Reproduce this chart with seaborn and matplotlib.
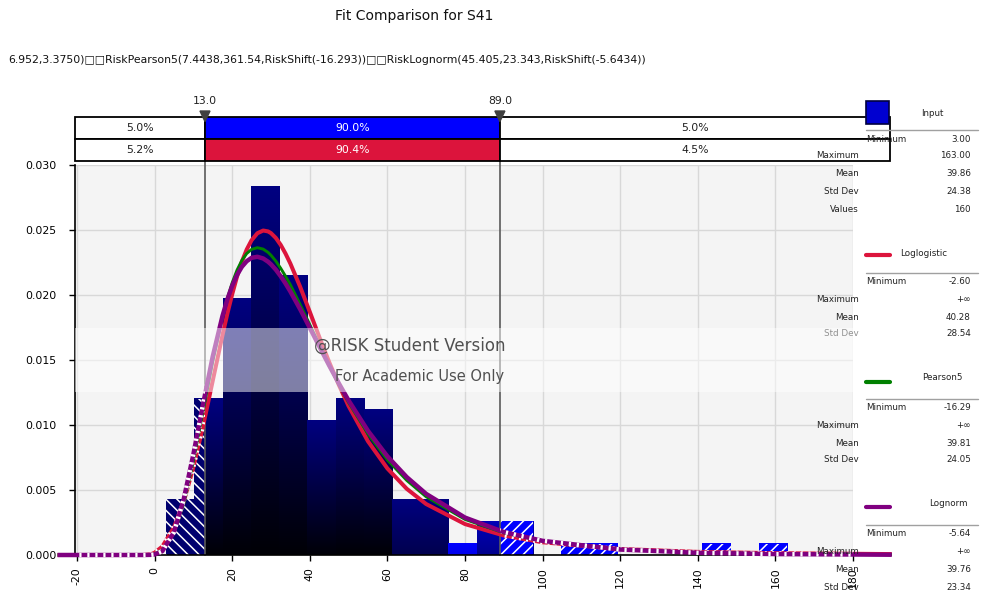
import numpy as np
import pandas as pd
import matplotlib
matplotlib.use("Agg")
import matplotlib.pyplot as plt
import seaborn as sns
from matplotlib.patches import Rectangle, Polygon
from matplotlib.path import Path
from matplotlib.ticker import FormatStrFormatter

# ---------------- data ----------------
bin_lo, bin_hi, n_bins = 3.0, 163.0, 22
bin_counts = [5, 14, 23, 33, 25, 12, 14, 13, 5, 5, 1, 3, 3, 0, 1, 1, 0, 0, 0, 1, 0, 1]

curve_x = [-25, -20, -10, -3, -1, 0, 2, 5, 7.5, 10,
           12.5, 15, 17.5, 18.75, 20, 21.25, 22.5, 23.75, 25, 26.5,
           28, 29.25, 30, 31.25, 32.5, 33.75, 35, 37.5, 40, 42.5,
           45, 47.5, 50, 55, 60, 65, 70, 80, 90, 100,
           120, 140, 160, 190]
loglogistic_y = [0, 0, 0, 0, 0.00005, 0.00017, 0.00065, 0.00212, 0.00409, 0.00674,
                 0.00991, 0.01341, 0.01690, 0.01855, 0.02005, 0.02141, 0.02256, 0.02350, 0.02421, 0.02475,
                 0.02496, 0.02489, 0.02476, 0.02439, 0.02386, 0.02319, 0.02242, 0.02065, 0.01871, 0.01674,
                 0.01484, 0.01308, 0.01146, 0.00875, 0.00666, 0.00509, 0.00392, 0.00238, 0.00150, 0.00098,
                 0.00046, 0.00024, 0.00014, 0.00007]
pearson5_y = [0, 0, 0, 0, 0.00003, 0.00009, 0.00038, 0.00169, 0.00395, 0.00720,
              0.01104, 0.01490, 0.01829, 0.01972, 0.02093, 0.02191, 0.02266, 0.02319, 0.02351, 0.02364,
              0.02353, 0.02328, 0.02306, 0.02261, 0.02206, 0.02145, 0.02079, 0.01928, 0.01772, 0.01613,
              0.01457, 0.01311, 0.01173, 0.00931, 0.00732, 0.00574, 0.00448, 0.00274, 0.00170, 0.00106,
              0.00044, 0.00019, 0.00009, 0.00003]
lognorm_y = [0, 0, 0, 0, 0.00001, 0.00004, 0.00029, 0.00175, 0.00427, 0.00774,
             0.01160, 0.01528, 0.01838, 0.01965, 0.02070, 0.02154, 0.02217, 0.02260, 0.02286, 0.02294,
             0.02281, 0.02256, 0.02236, 0.02195, 0.02145, 0.02089, 0.02027, 0.01892, 0.01748, 0.01602,
             0.01458, 0.01320, 0.01189, 0.00955, 0.00759, 0.00599, 0.00470, 0.00288, 0.00177, 0.00109,
             0.00042, 0.00017, 0.00007, 0.00002]

cut_values = [13.0, 89.0]
input_pcts = [5.0, 90.0, 5.0]
fit_pcts = [5.2, 90.4, 4.5]

x_ticks = [-20, 0, 20, 40, 60, 80, 100, 120, 140, 160, 180]
y_ticks = [0.000, 0.005, 0.010, 0.015, 0.020, 0.025, 0.030]

title = "Fit Comparison for S41"
subtitle = ("6.952,3.3750)\u25a1\u25a1RiskPearson5(7.4438,361.54,RiskShift(-16.293))"
            "\u25a1\u25a1RiskLognorm(45.405,23.343,RiskShift(-5.6434))")

series_names = ["Loglogistic", "Pearson5", "Lognorm"]
series_colors = ["#dc143c", "#008000", "#800080"]

input_stats = [("Minimum", "3.00"), ("Maximum", "163.00"), ("Mean", "39.86"),
               ("Std Dev", "24.38"), ("Values", "160")]
loglogistic_stats = [("Minimum", "-2.60"), ("Maximum", "+\u221e"), ("Mean", "40.28"), ("Std Dev", "28.54")]
pearson5_stats = [("Minimum", "-16.29"), ("Maximum", "+\u221e"), ("Mean", "39.81"), ("Std Dev", "24.05")]
lognorm_stats = [("Minimum", "-5.64"), ("Maximum", "+\u221e"), ("Mean", "39.76"), ("Std Dev", "23.34")]

# ---------------- style ----------------
sns.set_style("ticks")
plt.rcParams["font.family"] = ["DejaVu Sans"]
plt.rcParams["axes.unicode_minus"] = False
plt.rcParams["hatch.color"] = "white"
plt.rcParams["hatch.linewidth"] = 1.1

W, H = 982, 596
fig = plt.figure(figsize=(W / 100, H / 100), dpi=100, facecolor="white")

def fx(px):
    return px / W

def fy(py):
    return 1 - py / H

ax_l, ax_r, ax_t, ax_b = 75, 853, 165, 555
ax = fig.add_axes([fx(ax_l), fy(ax_b), fx(ax_r - ax_l), (ax_b - ax_t) / H])
ax.set_facecolor("#f4f4f4")
XMIN, XMAX = -20.5, 180.0

# ---------------- histogram layers ----------------
edges = [float(e) for e in np.linspace(bin_lo, bin_hi, n_bins + 1)]
centers = [(a + b) / 2 for a, b in zip(edges[:-1], edges[1:])]
hist_df = pd.DataFrame({"value": centers, "count": bin_counts})

def hist_layer(**kw):
    n0 = len(ax.patches)
    sns.histplot(data=hist_df, x="value", weights="count", bins=edges, stat="density",
                 ax=ax, alpha=1, **kw)
    return ax.patches[n0:]

def rect_path(x0, x1, y0=-0.004, y1=0.032):
    return Path([(x0, y0), (x1, y0), (x1, y1), (x0, y1), (x0, y0)],
                [Path.MOVETO, Path.LINETO, Path.LINETO, Path.LINETO, Path.CLOSEPOLY])

# middle layer: solid bars with vertical gradient
mid = hist_layer(color="#000080", edgecolor="none", linewidth=0)
for p in mid:
    h = p.get_height()
    if h <= 0:
        continue
    x0, w = p.get_x(), p.get_width()
    f = min(1.0, max(0.0, (h - 0.0009) / 0.003))
    top_b = (255 - 127 * f) / 255.0
    d = min(0.95, h / 0.011)
    t = np.linspace(0, 1, 64)[:, None]
    b = top_b * (1 - d * t)
    img = np.zeros((64, 1, 3))
    img[:, :, 2] = b
    ax.imshow(img, extent=(x0, x0 + w, 0, h), origin="upper", aspect="auto",
              interpolation="bilinear", zorder=1.5)
    p.set_visible(False)

left = hist_layer(color="#00006e", edgecolor="white", linewidth=0, hatch="\\\\\\")
for p in left:
    p.set_zorder(1.6)
    p.set_clip_path(rect_path(XMIN, cut_values[0]), ax.transData)
right = hist_layer(color="#0000ff", edgecolor="white", linewidth=0, hatch="///")
for p in right:
    p.set_zorder(1.6)
    p.set_clip_path(rect_path(cut_values[1], XMAX), ax.transData)

# marker lines
for c in cut_values:
    ax.axvline(c, ymin=0, ymax=1 + 4 / (ax_b - ax_t), clip_on=False,
               color="#5a5a5a", lw=1.2, zorder=1.8)

# ---------------- fitted curves ----------------
curve_df = pd.DataFrame({"x": curve_x, "Loglogistic": loglogistic_y,
                         "Pearson5": pearson5_y, "Lognorm": lognorm_y})
stripe_clip = Path.make_compound_path(rect_path(XMIN, cut_values[0]), rect_path(cut_values[1], XMAX))
widths = [2.9, 2.1, 3.2]
for name, col, lw in zip(series_names, series_colors, widths):
    sns.lineplot(data=curve_df, x="x", y=name, ax=ax, color=col, lw=lw, zorder=3)
    ln = ax.lines[-1]
    ln.set_clip_on(False)
    ln.set_solid_capstyle("butt")
    ln.set_solid_joinstyle("round")
    sns.lineplot(data=curve_df, x="x", y=name, ax=ax, color="white", lw=lw, zorder=3,
                 linestyle=(0.5, (0.5, 1.3)))
    st = ax.lines[-1]
    st.set_clip_on(True)
    st.set_clip_box(None)
    st.set_clip_path(stripe_clip, ax.transData)

# ---------------- axes cosmetics ----------------
ax.set_xlim(XMIN, XMAX)
ax.set_ylim(0, 0.030)
ax.set_xticks(x_ticks)
ax.set_yticks(y_ticks)
ax.yaxis.set_major_formatter(FormatStrFormatter("%.3f"))
ax.set_xlabel("")
ax.set_ylabel("")
ax.grid(True, color="#d8d8d8", lw=1)
ax.set_axisbelow(True)
for s in ["top", "right"]:
    ax.spines[s].set_visible(False)
for s in ["left", "bottom"]:
    ax.spines[s].set_color("black")
    ax.spines[s].set_linewidth(1.2)
ax.tick_params(axis="both", direction="out", length=4, width=1, colors="black",
               labelsize=7.8)
ax.tick_params(axis="y", pad=9.5)
ax.tick_params(axis="x", labelrotation=90, pad=5)

# ---------------- delimiter table ----------------
tb_l, tb_r = 75, 890
tb = fig.add_axes([fx(tb_l), fy(161), fx(tb_r - tb_l), (161 - 95) / H])
scale = (XMAX - XMIN) / (ax_r - ax_l)
TXMAX = XMIN + (tb_r - tb_l) * scale
tb.set_xlim(XMIN, TXMAX)
tb.set_ylim(161, 95)
tb.axis("off")
bounds = [XMIN] + cut_values + [TXMAX]
for row, (pcts, y0, mid_col) in enumerate([(input_pcts, 117, "#0000ff"), (fit_pcts, 139, "#dc143c")]):
    for i in range(3):
        x0, x1 = bounds[i], bounds[i + 1]
        fc = mid_col if i == 1 else "white"
        tb.add_patch(Rectangle((x0, y0), x1 - x0, 22, facecolor=fc, edgecolor="black",
                               lw=1.3, clip_on=False))
        tb.text((x0 + x1) / 2, y0 + 11, f"{pcts[i]:.1f}%", ha="center", va="center",
                fontsize=7.8, color="white" if i == 1 else "#202020")
tri_w = 5 * scale
for c in cut_values:
    tb.add_patch(Polygon([(c - tri_w, 111), (c + tri_w, 111), (c, 121.5)], closed=True,
                         facecolor="#404040", edgecolor="#404040", clip_on=False, zorder=5))
    tb.text(c, 101, f"{c:.1f}", ha="center", va="center", fontsize=7.8, color="#202020")

# ---------------- overlay (titles, panel, watermark) ----------------
ov = fig.add_axes([0, 0, 1, 1], zorder=5)
ov.set_xlim(0, W)
ov.set_ylim(H, 0)
ov.axis("off")
ov.patch.set_alpha(0)

ov.text(414, 16, title, ha="center", va="center", fontsize=10, color="#111111")
ov.text(8, 60, subtitle, ha="left", va="center", fontsize=7.8, color="#111111")

PFS = 6.3
def stat_block(stats, y_min, row_ys):
    ov.text(866, y_min, stats[0][0], ha="left", va="center", fontsize=PFS, color="#222222")
    ov.text(971, y_min, stats[0][1], ha="right", va="center", fontsize=PFS, color="#222222")
    for (lab, val), yy in zip(stats[1:], row_ys):
        ov.text(859, yy, lab, ha="right", va="center", fontsize=PFS, color="#222222")
        ov.text(971, yy, val, ha="right", va="center", fontsize=PFS, color="#222222")

# Input block
ov.add_patch(Rectangle((866, 101), 23, 23, facecolor="#0000d0", edgecolor="#000040", lw=1.2))
ov.text(932, 113, "Input", ha="center", va="center", fontsize=PFS, color="#222222")
ov.plot([866, 978], [130, 130], color="#a0a0a0", lw=1)
stat_block(input_stats, 139, [156, 174, 191.5, 209])

blocks = [
    (loglogistic_stats, 254.7, 924, 253, 273, 282, [300, 317.5, 334]),
    (pearson5_stats, 381.7, 942, 377, 399, 408, [426, 443, 459.5]),
    (lognorm_stats, 507, 948, 504, 525, 533, [551, 569, 587]),
]
for (stats, sw_y, nm_x, nm_y, line_y, min_y, rows), name, col in zip(blocks, series_names, series_colors):
    ov.plot([866, 890], [sw_y, sw_y], color=col, lw=3)
    ov.text(nm_x, nm_y, name, ha="center", va="center", fontsize=PFS, color="#222222")
    ov.plot([866, 978], [line_y, line_y], color="#a0a0a0", lw=1)
    stat_block(stats, min_y, rows)

# watermark band
ov.add_patch(Rectangle((75, 328), 785, 64, facecolor="white", edgecolor="none", alpha=0.5, zorder=4))
ov.text(410, 346, "@RISK Student Version", ha="center", va="center", fontsize=12,
        color="#505050", zorder=5)
ov.text(420, 377, "For Academic Use Only", ha="center", va="center", fontsize=10.5,
        color="#505050", zorder=5)

fig.savefig("out.png", dpi=100, facecolor="white")
